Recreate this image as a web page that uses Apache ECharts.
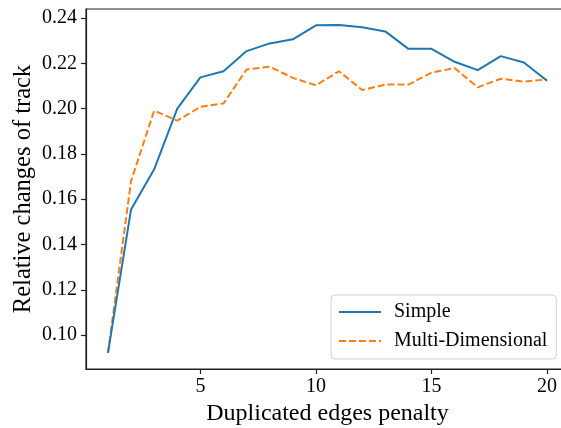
<!DOCTYPE html>
<html>
<head>
<meta charset="utf-8">
<script src="https://cdn.jsdelivr.net/npm/echarts@6/dist/echarts.min.js"></script>
<style>
  html, body { margin: 0; padding: 0; background: #fff; }
  #chart { width: 561px; height: 428px; }
</style>
</head>
<body>
<div id="chart"></div>
<script>
// Penalty values on the x axis
const penalties = [1, 2, 3, 4, 5, 6, 7, 8, 9, 10, 11, 12, 13, 14, 15, 16, 17, 18, 19, 20];
// Relative change of track for each method
const simple = [0.0921, 0.1555, 0.1732, 0.2000, 0.2138, 0.2165, 0.2254, 0.2288, 0.2306, 0.2368,
                0.2369, 0.2359, 0.2341, 0.2264, 0.2264, 0.2207, 0.2170, 0.2232, 0.2204, 0.2123];
const multiDim = [0.0921, 0.1680, 0.1991, 0.1947, 0.2008, 0.2023, 0.2173, 0.2185, 0.2136, 0.2103,
                  0.2165, 0.2082, 0.2106, 0.2106, 0.2159, 0.2179, 0.2094, 0.2132, 0.2119, 0.2129];
// Tick labels
const xTicks = [5, 10, 15, 20];
const yTicks = [0.10, 0.12, 0.14, 0.16, 0.18, 0.20, 0.22, 0.24];
const yTitle = 'Relative changes of track';

const FONT = '"Liberation Serif", "DejaVu Serif", serif';
const chart = echarts.init(document.getElementById('chart'), null, { renderer: 'canvas' });

const pairs = (ys) => penalties.map((x, i) => [x, ys[i]]);

chart.setOption({
  animation: false,
  backgroundColor: '#fff',
  grid: {
    left: 86, top: 9, right: -8, bottom: 59,
    outerBoundsMode: 'none', containLabel: false,
    show: true, borderColor: '#222', borderWidth: 1.2, backgroundColor: 'transparent'
  },
  // Vertical axis title, placed beside the tick labels
  graphic: [{
    type: 'text', x: 24, y: 189, rotation: Math.PI / 2,
    style: { text: yTitle, fontFamily: FONT, fontSize: 24.5, fill: '#000',
             textAlign: 'center', textVerticalAlign: 'middle' }
  }],
  xAxis: {
    type: 'value', min: 0.05, max: 20.95,
    name: 'Duplicated edges penalty', nameLocation: 'middle', nameGap: 32,
    nameTextStyle: { fontFamily: FONT, fontSize: 24, color: '#000' },
    axisLine: { show: true, lineStyle: { color: '#222', width: 1.2 } },
    axisTick: { show: true, length: 5, lineStyle: { color: '#222', width: 1.2 }, customValues: xTicks },
    axisLabel: { fontFamily: FONT, fontSize: 20, color: '#000', margin: 8, customValues: xTicks,
                 formatter: (v) => String(v) },
    splitLine: { show: false }
  },
  yAxis: {
    type: 'value', min: 0.085, max: 0.244,
    axisLine: { show: true, lineStyle: { color: '#222', width: 1.2 } },
    axisTick: { show: true, length: 5, lineStyle: { color: '#222', width: 1.2 }, customValues: yTicks },
    axisLabel: { fontFamily: FONT, fontSize: 20, color: '#000', margin: 9, customValues: yTicks,
                 formatter: (v) => v.toFixed(2) },
    splitLine: { show: false }
  },
  legend: {
    orient: 'vertical', left: 331, top: 295,
    backgroundColor: '#fff', borderColor: '#d0d0d0', borderWidth: 1, borderRadius: 4,
    padding: [7, 9, 8, 7], itemGap: 9, itemWidth: 42, itemHeight: 20,
    itemStyle: { opacity: 0 },
    textStyle: { fontFamily: FONT, fontSize: 20, color: '#000', padding: [0, 0, 0, 8] },
    data: ['Simple', 'Multi-Dimensional']
  },
  series: [
    {
      name: 'Simple', type: 'line', data: pairs(simple), showSymbol: false, symbol: 'none',
      lineStyle: { color: '#1f77b4', width: 2 }, itemStyle: { color: '#1f77b4' }, z: 3
    },
    {
      name: 'Multi-Dimensional', type: 'line', data: pairs(multiDim), showSymbol: false, symbol: 'none',
      lineStyle: { color: '#ff7f0e', width: 2, type: [7, 3] }, itemStyle: { color: '#ff7f0e' }, z: 2
    }
  ]
});
</script>
</body>
</html>
